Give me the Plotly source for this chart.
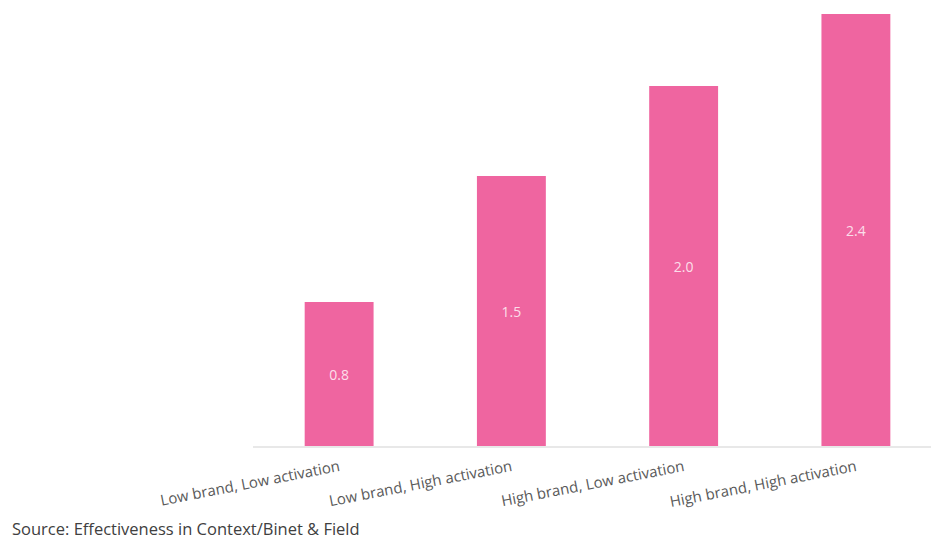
import plotly.graph_objects as go

categories = ["Low brand, Low activation", "Low brand, High activation",
              "High brand, Low activation", "High brand, High activation"]
values = [0.8, 1.5, 2.0, 2.4]
value_labels = ["0.8", "1.5", "2.0", "2.4"]
source_text = "Source: Effectiveness in Context/Binet & Field"

fig = go.Figure(go.Bar(
    x=categories, y=values, text=value_labels,
    textposition="inside", insidetextanchor="middle",
    textfont=dict(color="rgba(255,255,255,0.8)", size=14, family="Open Sans"),
    marker=dict(color="#EF65A0", line=dict(width=0)),
    width=0.4, cliponaxis=False,
))

fig.update_layout(
    width=931, height=539,
    margin=dict(l=253, r=0, t=0, b=93),
    paper_bgcolor="white", plot_bgcolor="white",
    showlegend=False,
    font=dict(family="Open Sans", color="#595959"),
    xaxis=dict(range=[-0.5, 3.436], showline=True, linecolor="#e8e8e8", linewidth=2,
               tickangle=-11, tickfont=dict(size=15, color="#595959"),
               showgrid=False, ticks="", ticklabelstandoff=5),
    yaxis=dict(range=[0, 446/180], visible=False, showgrid=False),
    annotations=[dict(text=source_text, xref="paper", yref="paper",
                      x=-243/678, y=-82/446, xanchor="left", yanchor="middle",
                      showarrow=False, font=dict(size=16.5, color="#404040", family="Open Sans"))],
)

fig.write_html("out.html")
